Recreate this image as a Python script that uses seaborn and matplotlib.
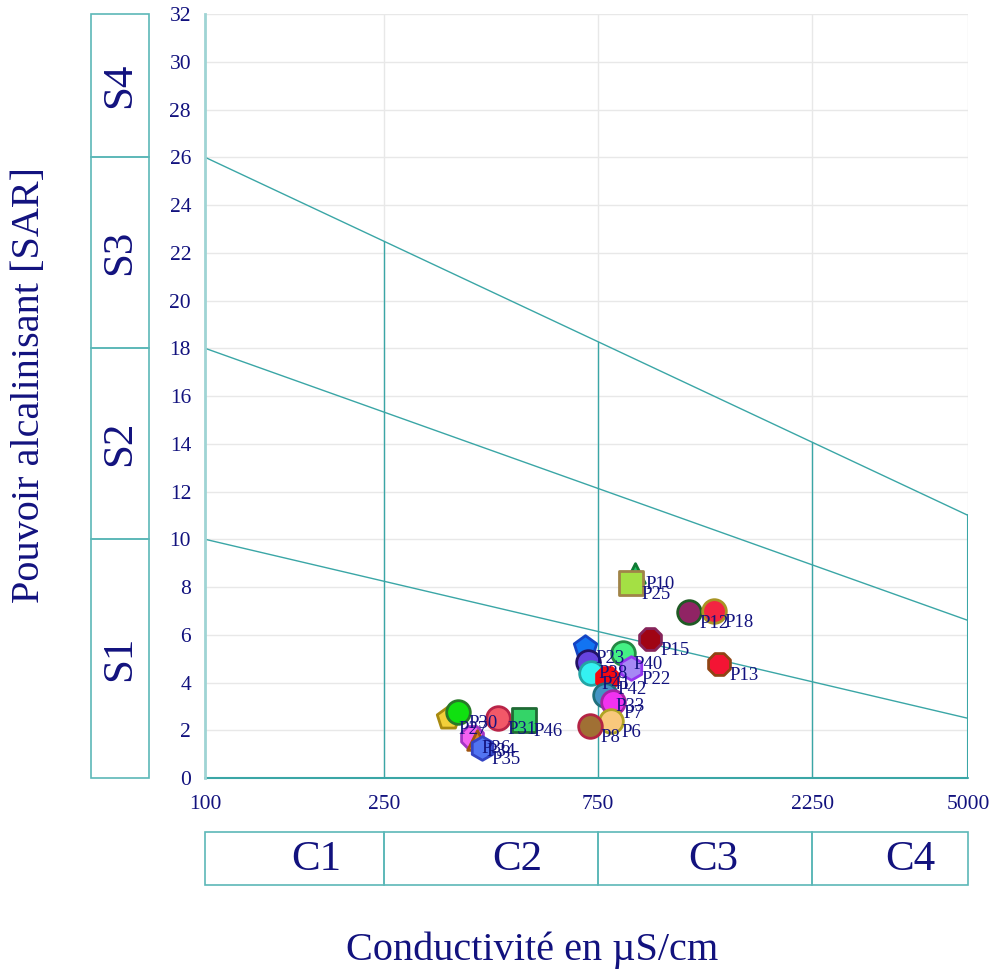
import numpy as np
import pandas as pd
import matplotlib
matplotlib.use("Agg")
import matplotlib.pyplot as plt
import seaborn as sns
from matplotlib.patches import Rectangle

# ===============================
# data
# ===============================
names = ["P27", "P30", "P31", "P46", "P36", "P34", "P35",
         "P10", "P25", "P12", "P18", "P15", "P13",
         "P23", "P38", "P40", "P22", "P41", "P42", "P33", "P7", "P6", "P8"]
cond = [348, 366, 449, 513, 393, 403, 413,
        907, 889, 1197, 1360, 980, 1396,
        702, 713, 853, 890, 724, 786, 778, 810, 802, 720]
sar = [2.51, 2.76, 2.51, 2.43, 1.72, 1.60, 1.26,
       8.59, 8.17, 6.95, 7.00, 5.82, 4.77,
       5.49, 4.86, 5.24, 4.60, 4.40, 4.19, 3.48, 3.18, 2.39, 2.18]
markers = ["p", "o", "o", "s", "8", "^", "h",
           "^", "s", "o", "o", "8", "8",
           "p", "o", "o", "h", "o", "8", "o", "o", "o", "o"]
faces = ["#f2d03a", "#10e010", "#f25868", "#34d468", "#f462f0", "#e08424", "#5274f2",
         "#1ec864", "#a4e044", "#902464", "#f22442", "#a00414", "#f41434",
         "#1274f2", "#6644e0", "#44f084", "#a688f4", "#34f2f2", "#f40a10", "#4494c4", "#f232f0", "#f8c87c", "#a07034"]
edges = ["#a88a10", "#287828", "#b82448", "#1f6a34", "#a434c4", "#a05410", "#3444c4",
         "#107a34", "#a08448", "#1f5a24", "#a89424", "#86245a", "#904414",
         "#1444c4", "#221266", "#248844", "#9434f0", "#24a4a4", "#f40a10", "#20707c", "#a424a4", "#b0a424", "#b42444"]

# Riverside boundary lines (SAR at 100 and 5000 uS/cm)
line_x = [100, 5000]
line_s3s4 = [26, 11.0]
line_s2s3 = [18, 6.6]
line_s1s2 = [10, 2.5]
c_bounds = [250, 750, 2250]
x_ticks = [100, 250, 750, 2250, 5000]
s_labels = ["S1", "S2", "S3", "S4"]
s_bounds = [0, 10, 18, 26, 32]
c_labels = ["C1", "C2", "C3", "C4"]
c_label_x = [177, 495, 1352, 3715]

df = pd.DataFrame({"name": names, "cond": cond, "sar": sar})

# ===============================
# style
# ===============================
sns.set_style("white")
plt.rcParams["font.family"] = ["Liberation Serif", "DejaVu Serif"]
navy = "#12127e"
teal = "#3aa6a6"
box_c = "#5cb8b8"

W, H = 991, 972
fig = plt.figure(figsize=(W / 100, H / 100), dpi=100)

def fax(x0, y0, x1, y1):
    return fig.add_axes([x0 / W, 1 - y1 / H, (x1 - x0) / W, (y1 - y0) / H])

ax = fax(205, 14, 968, 778)
ax.set_xscale("log")
ax.set_xlim(100, 5000)
ax.set_ylim(0, 32)

# grid
for yv in range(2, 33, 2):
    ax.axhline(yv, color="#e8e8e8", lw=1, zorder=0)
for xv in x_ticks[1:]:
    ax.axvline(xv, color="#e8e8e8", lw=1, zorder=0)

# boundary lines
def interp_log(x, ys):
    t = (np.log10(x) - np.log10(line_x[0])) / (np.log10(line_x[1]) - np.log10(line_x[0]))
    return ys[0] + t * (ys[1] - ys[0])

for ys in [line_s3s4, line_s2s3, line_s1s2]:
    ax.plot(line_x, ys, color=teal, lw=1, zorder=1)
for cb in c_bounds:
    ax.plot([cb, cb], [0, interp_log(cb, line_s3s4)], color=teal, lw=1, zorder=1)
ax.plot([5000, 5000], [0, line_s3s4[1]], color=teal, lw=1.5, zorder=1)
ax.plot([100, 5000], [0, 0], color=teal, lw=1.5, zorder=1, clip_on=False)

for s in ["top", "right", "bottom"]:
    ax.spines[s].set_visible(False)
ax.spines["left"].set_color("#9fd4d4")
ax.spines["left"].set_linewidth(2)

ax.set_yticks(range(0, 33, 2))
ax.set_xticks(x_ticks)
ax.set_xticklabels([str(v) for v in x_ticks])
ax.minorticks_off()
ax.tick_params(axis="both", colors="#f4a0a0", length=7, width=1, labelsize=15.5,
               labelcolor=navy, pad=3)
ax.tick_params(axis="x", pad=5)

# points
for i in range(len(names)):
    sns.scatterplot(x=[cond[i]], y=[sar[i]], marker=markers[i], s=290 if markers[i] != "^" else 200,
                    color=faces[i], edgecolor=edges[i], linewidth=2, ax=ax, legend=False, zorder=3)
    ax.annotate(names[i], (cond[i], sar[i]), xytext=(7.2, -8.5), textcoords="offset points",
                ha="left", va="center", fontsize=13.5, color=navy, zorder=4)

ax.set_xlabel("")
ax.set_ylabel("")

# S boxes
axs = fax(91, 14, 149, 778)
axs.set_ylim(0, 32)
axs.set_xlim(0, 1)
axs.axis("off")
for k in range(4):
    axs.add_patch(Rectangle((0, s_bounds[k]), 1, s_bounds[k + 1] - s_bounds[k], fill=False,
                            edgecolor=box_c, lw=1.2, clip_on=False))
    axs.text(0.5, (s_bounds[k] + s_bounds[k + 1]) / 2, s_labels[k], rotation=90, ha="center",
             va="center", fontsize=31, color=navy)

# C boxes
axc = fax(205, 832, 968, 885)
axc.set_xscale("log")
axc.set_xlim(100, 5000)
axc.set_ylim(0, 1)
axc.axis("off")
edges_c = [100] + c_bounds + [5000]
for k in range(4):
    axc.add_patch(Rectangle((edges_c[k], 0), edges_c[k + 1] - edges_c[k], 1, fill=False,
                            edgecolor=box_c, lw=1.2, clip_on=False))
    axc.text(c_label_x[k], 0.48, c_labels[k], ha="center", va="center", fontsize=31, color=navy)

fig.text(30 / W, 1 - 385 / H, "Pouvoir alcalinisant [SAR]", rotation=90, ha="center",
         va="center", fontsize=29, color=navy)
fig.text(532 / W, 1 - 950 / H, "Conductivité en µS/cm", ha="center", va="center",
         fontsize=29, color=navy)

fig.savefig("out.png", dpi=100)
